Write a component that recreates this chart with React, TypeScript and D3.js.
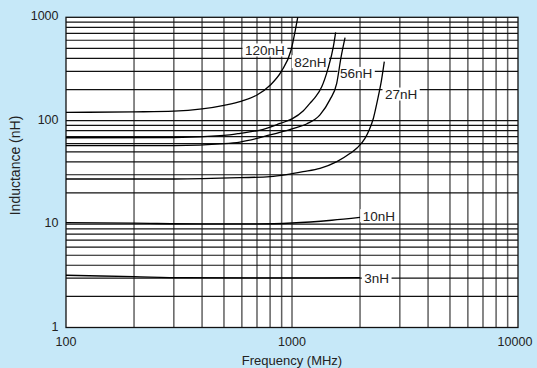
import * as d3 from 'd3';

// inductance vs frequency (MHz, nH)
const curve3nH: [number, number][] = [
  [100, 3.2], [200, 3.1], [330, 3.03], [1000, 3.02], [2000, 3.03],
];
const curve10nH: [number, number][] = [
  [100, 10.35], [200, 10.2], [400, 10.05], [700, 10.05], [1000, 10.25], [1500, 10.9], [2000, 11.6],
];
const curve27nH: [number, number][] = [
  [100, 27.3], [300, 27.3], [589, 28.1], [800, 28.8], [945, 30.1], [1120, 32.1], [1330, 34.6],
  [1580, 40.2], [1810, 48.4], [1950, 55], [2100, 67], [2200, 82], [2290, 105], [2390, 158],
  [2490, 248], [2561, 372],
];
const curve56nH: [number, number][] = [
  [100, 57.3], [300, 57.5], [500, 60], [589, 62.2], [800, 72.8], [1000, 83.5], [1160, 93],
  [1330, 114], [1470, 159], [1577, 230], [1650, 416], [1717, 635],
];
const curve82nH: [number, number][] = [
  [100, 68.4], [300, 68.6], [500, 72], [589, 75.5], [746, 82.6], [885, 94], [1000, 104],
  [1120, 124], [1200, 147], [1266, 168], [1354, 213], [1444, 321], [1524, 520], [1560, 716],
];
const curve120nH: [number, number][] = [
  [100, 120.5], [200, 121.8], [300, 123.6], [400, 130], [500, 141], [600, 155], [700, 177],
  [800, 220], [900, 303], [990, 480], [1060, 1000],
];

const curves = [curve3nH, curve10nH, curve27nH, curve56nH, curve82nH, curve120nH];

// curve labels: text and where the text starts (MHz, nH)
const labelNames = ['120nH', '82nH', '56nH', '27nH', '10nH', '3nH'];
const labelAt: [number, number][] = [
  [620, 483], [1024, 372], [1631, 287], [2579, 181], [2055, 12.06], [2089, 3.03],
];

const xTicks = [100, 1000, 10000];
const yTicks = [1, 10, 100, 1000];

const W = 537;
const H = 368;
const font = 'Liberation Sans, Arial, Helvetica, sans-serif';

// rough Arial advance widths for the label glyphs
const textWidth = (s: string, size: number) =>
  s.split('').reduce((w, c) => w + (c === 'H' ? 0.722 : 0.556), 0) * size;

const App = () => {
  const x = d3.scaleLog().domain([100, 10000]).range([66, 518]);
  const y = d3.scaleLog().domain([1, 1000]).range([327.5, 17.3]);

  const minor = (from: number, to: number) => {
    const out: number[] = [];
    for (let d = from; d < to; d *= 10) for (let k = 2; k <= 9; k++) out.push(d * k);
    return out;
  };
  const xGrid = minor(100, 10000).concat([1000]);
  const yGrid = minor(1, 1000).concat([10, 100]);

  const line = d3
    .line<[number, number]>()
    .x((d) => x(d[0]))
    .y((d) => y(d[1]))
    .curve(d3.curveMonotoneX);

  const labelSize = 13.5;

  return (
    <svg width={W} height={H} style={{ position: 'absolute', left: 0, top: 0 }} fontFamily={font}>
      <rect x={0} y={0} width={W} height={H} fill="#c6e8f8" />
      <rect x={x(100)} y={y(1000)} width={x(10000) - x(100)} height={y(1) - y(1000)} fill="#fff" />

      {xGrid.map((v) => (
        <line key={'vx' + v} x1={x(v)} x2={x(v)} y1={y(1)} y2={y(1000)} stroke="#606060" strokeWidth={1.5} />
      ))}
      {yGrid.map((v) => (
        <line key={'hy' + v} x1={x(100)} x2={x(10000)} y1={y(v)} y2={y(v)} stroke="#111" strokeWidth={1.2} />
      ))}
      <rect
        x={x(100)}
        y={y(1000)}
        width={x(10000) - x(100)}
        height={y(1) - y(1000)}
        fill="none"
        stroke="#111"
        strokeWidth={1.3}
      />

      {labelNames.map((name, i) => {
        const w = textWidth(name, labelSize);
        return (
          <rect
            key={'box' + name}
            x={x(labelAt[i][0]) - 2.5}
            y={y(labelAt[i][1]) - 6.5}
            width={w + 5}
            height={13}
            fill="#fff"
          />
        );
      })}

      {curves.map((c, i) => (
        <path key={'c' + i} d={line(c) ?? ''} fill="none" stroke="#000" strokeWidth={1.3} />
      ))}

      {labelNames.map((name, i) => (
        <text
          key={'lb' + name}
          x={x(labelAt[i][0])}
          y={y(labelAt[i][1])}
          dy="0.36em"
          fontSize={labelSize}
          fill="#222"
        >
          {name}
        </text>
      ))}

      {yTicks.map((v) => (
        <text key={'yt' + v} x={58.5} y={y(v) - 1.5} dy="0.36em" textAnchor="end" fontSize={12.5} fill="#222">
          {v}
        </text>
      ))}
      {xTicks.map((v) => (
        <text
          key={'xt' + v}
          x={v === 10000 ? x(v) - 3 : x(v)}
          y={341.7}
          dy="0.36em"
          textAnchor="middle"
          fontSize={12.5}
          fill="#222"
        >
          {v}
        </text>
      ))}

      <text x={292} y={360} dy="0.36em" textAnchor="middle" fontSize={13} fill="#222">
        Frequency (MHz)
      </text>
      <text
        transform={`translate(15,165.5) rotate(-90)`}
        dy="0.36em"
        textAnchor="middle"
        fontSize={14}
        fill="#222"
      >
        Inductance (nH)
      </text>
    </svg>
  );
};

export default App;
